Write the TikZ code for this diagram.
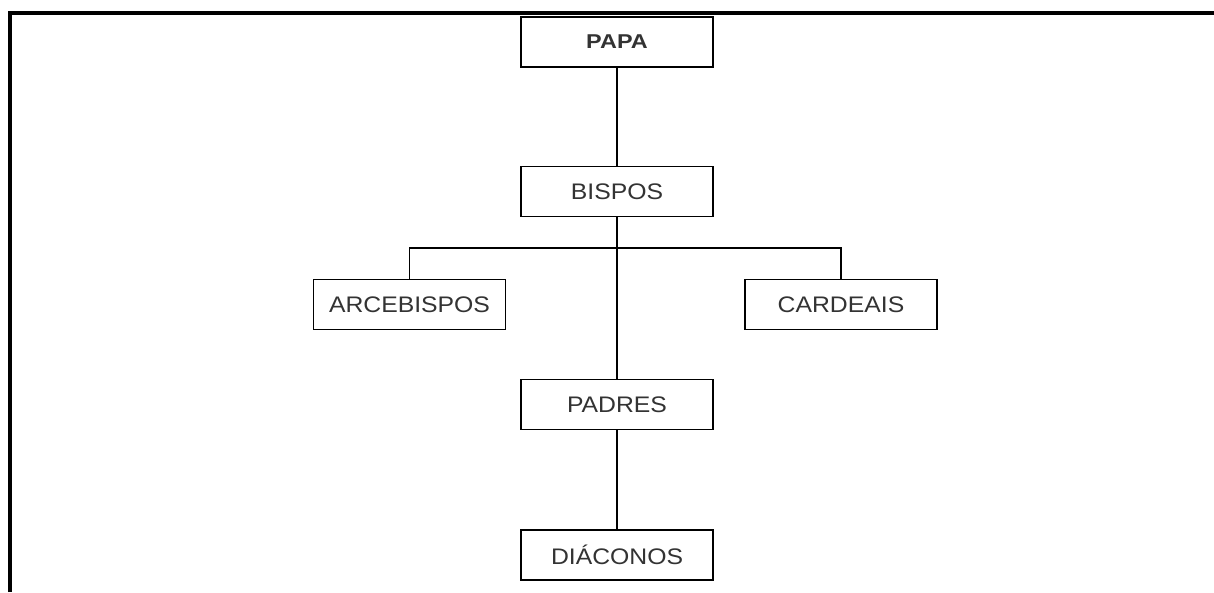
\documentclass[tikz,border=0pt]{standalone}
\usepackage{fontspec}
\setmainfont{Liberation Sans}
\begin{document}
\begin{tikzpicture}[x=1pt,y=-1pt,
  orgbox/.style={draw=black, line width=1.6pt, fill=white, minimum width=192pt, minimum height=50pt, inner sep=0pt, text=black!80, font=\fontsize{22.5}{26}\selectfont},
  link/.style={draw=black, line width=1.5pt},
  frame/.style={draw=black, line width=3.2pt}]
\useasboundingbox (0,0) rectangle (1214,592);
\coordinate (fb) at (10,592);
\coordinate (fc) at (10,13);
\coordinate (fr) at (1214,13);
\draw[frame] (fb) -- (fc) -- (fr);
\node[orgbox] (papa) at (617,42) {\scalebox{1.17}[1]{\fontsize{20}{24}\selectfont\bfseries PAPA}};
\node[orgbox] (bispos) at (617,191.5) {\scalebox{1.1}[1]{BISPOS}};
\node[orgbox] (arce) at (409.5,304.5) {\scalebox{1.1}[1]{ARCEBISPOS}};
\node[orgbox] (card) at (841,304.5) {\scalebox{1.1}[1]{CARDEAIS}};
\node[orgbox] (padres) at (617,404.5) {\scalebox{1.1}[1]{PADRES}};
\node[orgbox] (diac) at (617,555) {\scalebox{1.1}[1]{DIÁCONOS}};
\coordinate (j) at (617,248);
\draw[link] (papa) -- (bispos);
\draw[link] (bispos) -- (padres);
\draw[link] (arce.north) |- (j) -| (card.north);
\draw[link] (padres) -- (diac);
\end{tikzpicture}
\end{document}
